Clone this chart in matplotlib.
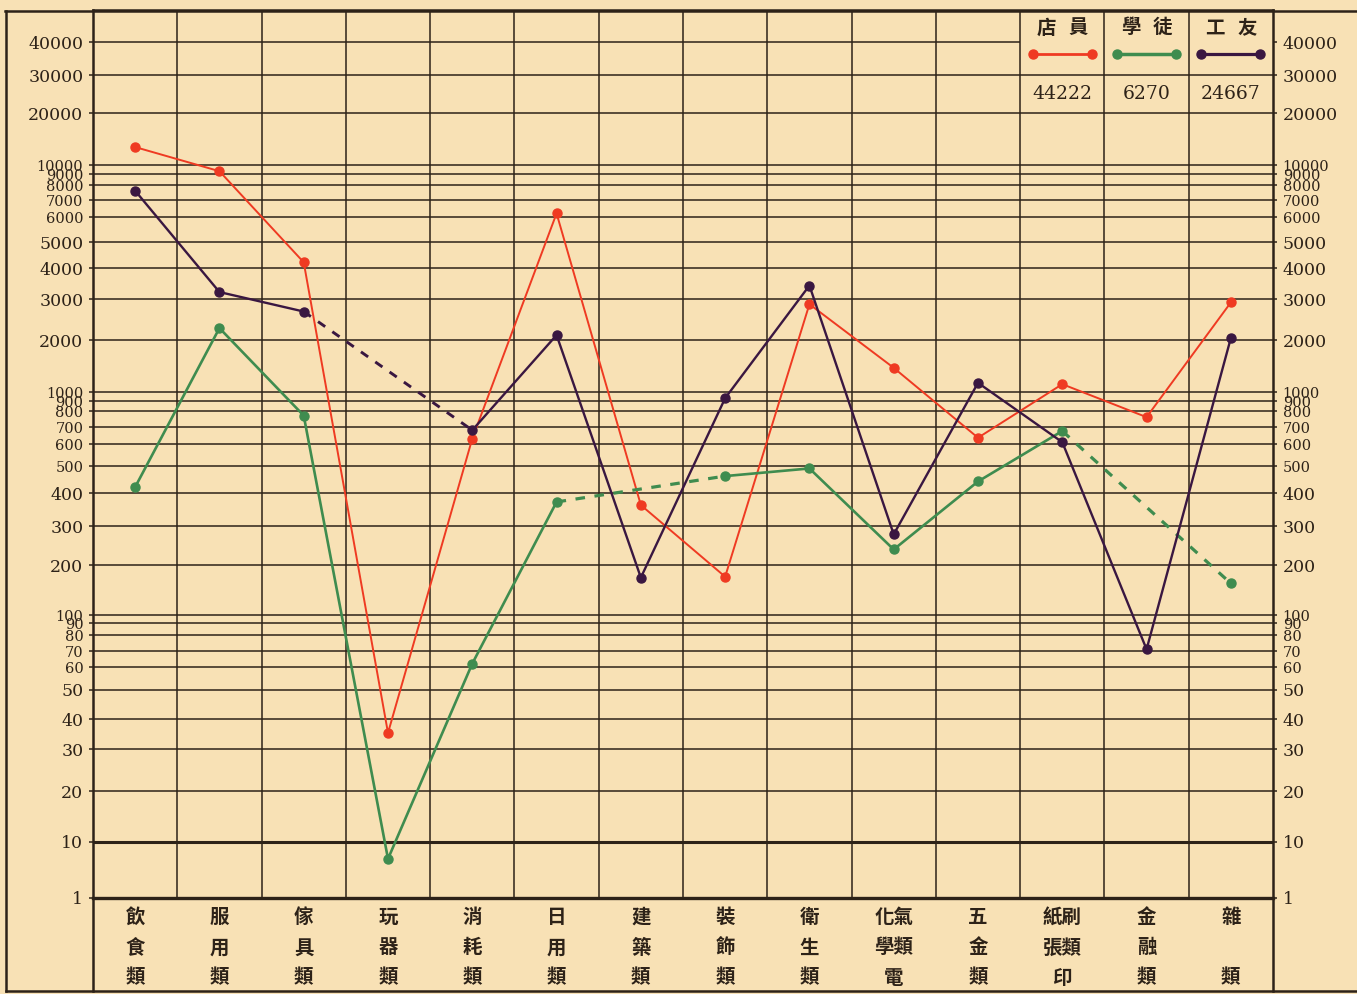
import numpy as np
import matplotlib.pyplot as plt
from matplotlib.lines import Line2D

nan = np.nan

# category labels, one string per printed row (vertical text)
category_rows = [
    ["飲", "食", "類"], ["服", "用", "類"], ["傢", "具", "類"], ["玩", "器", "類"],
    ["消", "耗", "類"], ["日", "用", "類"], ["建", "築", "類"], ["裝", "飾", "類"],
    ["衛", "生", "類"], ["化氣", "學類", "電"], ["五", "金", "類"], ["紙刷", "張類", "印"],
    ["金", "融", "類"], ["雜", "", "類"],
]

shop_clerks = [12700, 9300, 4200, 35, 630, 6200, 360, 170, 2850, 1380, 635, 1110, 760, 2900]
apprentices = [420, 2250, 770, 5, 62, 370, nan, 460, 490, 235, 440, 675, nan, 155]
workers = [7600, 3200, 2650, nan, 680, 2100, 168, 930, 3400, 275, 1130, 610, 71, 2040]

series_names = ["店員", "學徒", "工友"]
series_totals = ["44222", "6270", "24667"]

tick_values = [1, 10, 20, 30, 40, 50, 60, 70, 80, 90,
               100, 200, 300, 400, 500, 600, 700, 800, 900,
               1000, 2000, 3000, 4000, 5000, 6000, 7000, 8000, 9000,
               10000, 20000, 30000, 40000]
crowded = {10000, 9000, 8000, 7000, 6000, 1000, 900, 800, 700, 600, 500,
           100, 90, 80, 70, 60}

# hand-ruled log paper: height of each ruled line above the "1" line (px)
ruled_heights = [0, 56, 107, 149, 179, 208, 231, 247, 263, 275,
                 283, 333, 372, 405, 432, 454, 471, 487, 497,
                 506, 558, 599, 630, 656, 681, 698, 713, 724,
                 733, 785, 823, 856]

knot_logs = np.concatenate([[-3.0], np.log10(tick_values), [6.0]])
knot_pos = np.concatenate([[-168.0], ruled_heights, [1186.0]])


def paper_forward(v):
    v = np.clip(np.asarray(v, dtype=float), 1e-3, None)
    return np.interp(np.log10(v), knot_logs, knot_pos)


def paper_inverse(p):
    return 10 ** np.interp(np.asarray(p, dtype=float), knot_pos, knot_logs)


PAPER = "#f8e1b5"
INK = "#2d2218"
colors = ["#ef3a22", "#3f8c4f", "#3a1741"]
widths = [1.4, 1.9, 1.7]

fig = plt.figure(figsize=(13.57, 9.94), dpi=100, facecolor=PAPER)
ax = fig.add_axes([93 / 1357, 96 / 994, 1180 / 1357, 888 / 994], facecolor=PAPER)
ax.set_yscale("function", functions=(paper_forward, paper_inverse))
ax.set_xlim(-0.5, 13.5)
ax.set_ylim(1, paper_inverse(888))

# ruled paper
for v in tick_values[1:]:
    xmax = 10.5 if v == 40000 else 13.5
    ax.hlines(v, -0.5, xmax, color=INK, lw=2.2 if v == 10 else 1.1, zorder=1)
for i in range(13):
    ax.axvline(i + 0.5, color=INK, lw=1.1, zorder=1)

x = np.arange(len(category_rows))
for values, color, lw in zip([shop_clerks, apprentices, workers], colors, widths):
    values = np.array(values, dtype=float)
    ax.plot(x, values, color=color, lw=lw, marker="o", ms=6.5, zorder=3)
    # missing categories are bridged with a dashed line
    valid = np.where(~np.isnan(values))[0]
    for a, b in zip(valid[:-1], valid[1:]):
        if b - a > 1:
            ax.plot([a, b], [values[a], values[b]], color=color, lw=lw + 0.4,
                    ls=(0, (3, 3)), zorder=3)

ax.set_xticks([])
ax.set_yticks(tick_values)
ax.set_yticklabels([str(v) for v in tick_values])
ax.minorticks_off()
ax.tick_params(axis="y", which="both", left=True, right=True, labelleft=True,
               labelright=True, length=3, width=1.1, color=INK, pad=4, labelcolor=INK)
for side in (ax.get_yticklabels(which="major"),):
    pass
for lab, v in zip(ax.yaxis.get_majorticklabels(), tick_values):
    lab.set_family("DejaVu Serif")
    lab.set_fontsize(10.5 if v in crowded else 12.5)
for t in ax.yaxis.get_major_ticks():
    v = t.get_loc()
    t.label2.set_family("DejaVu Serif")
    t.label2.set_fontsize(10.5 if v in crowded else 12.5)
    t.label2.set_color(INK)

for s in ["left", "right", "top"]:
    ax.spines[s].set_color(INK)
    ax.spines[s].set_linewidth(1.8)
ax.spines["bottom"].set_color(INK)
ax.spines["bottom"].set_linewidth(2.4)

# category labels under the axis
xt = ax.get_xaxis_transform()
row_y = [-0.0214, -0.0563, -0.0901]
for i, rows in enumerate(category_rows):
    for ry, txt in zip(row_y, rows):
        ax.text(i, ry, txt, transform=xt, ha="center", va="center", fontsize=14,
                family=["Noto Sans CJK TC", "DejaVu Sans"], fontweight="bold", color=INK)

# key in the top right cells
for k, (name, total, color, lw) in enumerate(zip(series_names, series_totals, colors, widths)):
    cx = 11 + k
    for off, ch in zip([-0.19, 0.19], name):
        ax.text(cx + off, 0.98, ch, transform=xt, ha="center", va="center", fontsize=14,
                family=["Noto Sans CJK TC", "DejaVu Sans"], fontweight="bold", color=INK)
    ax.plot([cx - 0.35, cx + 0.35], [0.951, 0.951], transform=xt, color=color,
            lw=lw + 0.6, marker="o", ms=6.5, zorder=4, clip_on=False)
    ax.text(cx, 0.905, total, transform=xt, ha="center", va="center", fontsize=13.5,
            family="DejaVu Serif", color=INK)

# outer frame of the sheet
frame = [((6, 6), (11, 991)), ((5, 1357), (11, 11)), ((6, 1357), (991, 991)),
         ((93, 93), (898, 991)), ((1273, 1273), (898, 991))]
for xs, ys in frame:
    fig.add_artist(Line2D([p / 1357 for p in xs], [1 - p / 994 for p in ys],
                          transform=fig.transFigure, color=INK, lw=1.8))

fig.savefig("out.png", dpi=100, facecolor=PAPER)
